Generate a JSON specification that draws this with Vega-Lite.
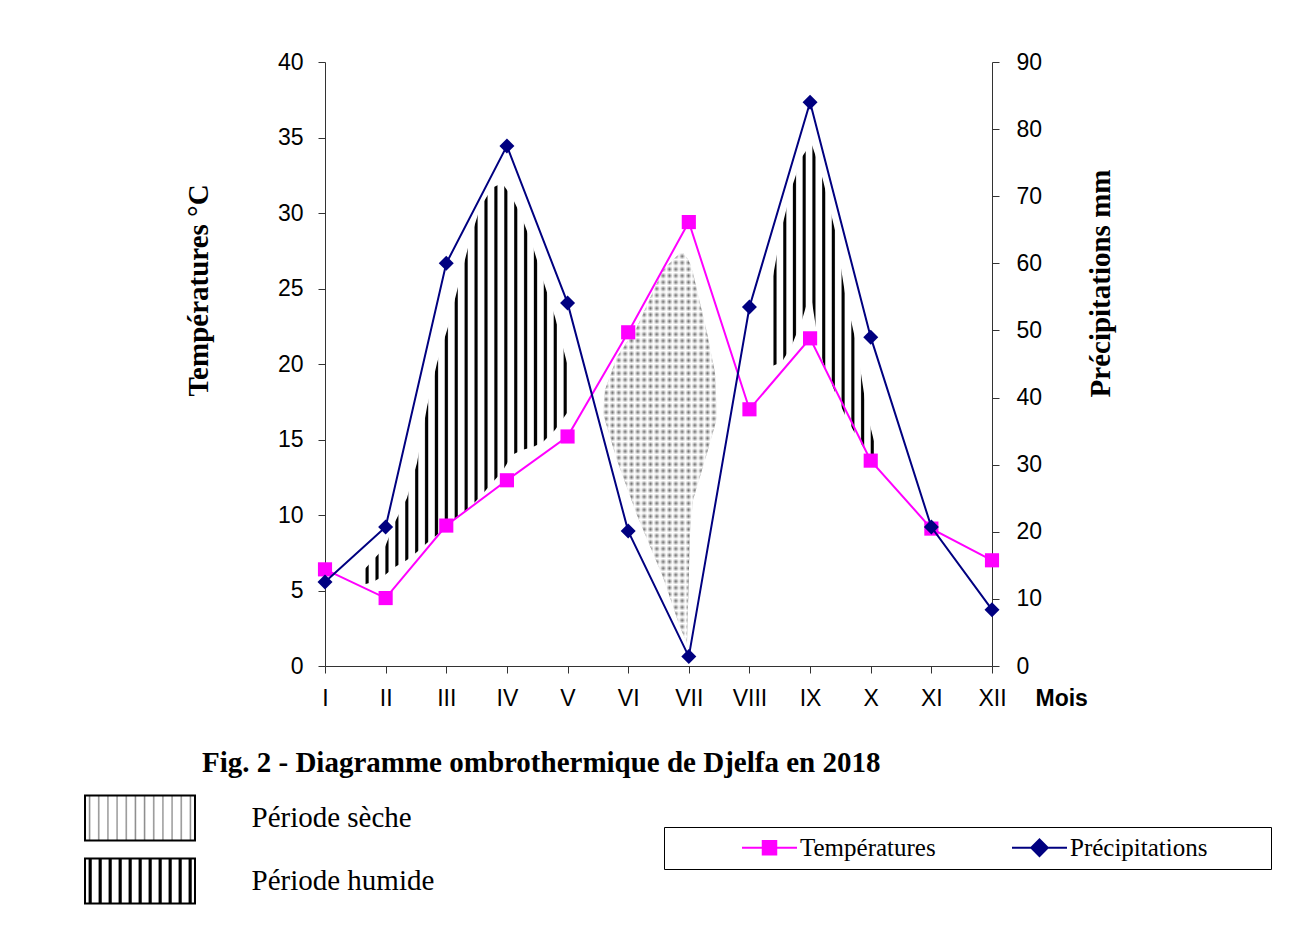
{
  "$schema": "https://vega.github.io/schema/vega-lite/v6.json",
  "width": 667,
  "height": 604,
  "autosize": {"type": "none"},
  "padding": {"left": 325, "top": 62, "right": 307, "bottom": 271},
  "background": "#ffffff",
  "config": {
    "view": {"stroke": null},
    "axis": {"grid": false, "domainColor": "#333333", "tickColor": "#333333", "labelColor": "#000000", "titleColor": "#000000", "domainWidth": 1, "tickWidth": 1}
  },
  "title": {
    "text": "Fig. 2 - Diagramme ombrothermique de Djelfa en 2018",
    "orient": "bottom", "anchor": "start", "frame": "group", "dx": -123, "offset": -159,
    "font": "Liberation Serif", "fontSize": 29, "fontWeight": "bold", "color": "#000000"
  },
  "datasets": {
    "climat": [
      {"mois": 1, "temperature": 6.4, "precipitation": 12.5},
      {"mois": 2, "temperature": 4.5, "precipitation": 20.7},
      {"mois": 3, "temperature": 9.3, "precipitation": 60.0},
      {"mois": 4, "temperature": 12.3, "precipitation": 77.5},
      {"mois": 5, "temperature": 15.2, "precipitation": 54.1},
      {"mois": 6, "temperature": 22.1, "precipitation": 20.1},
      {"mois": 7, "temperature": 29.4, "precipitation": 1.4},
      {"mois": 8, "temperature": 17.0, "precipitation": 53.5},
      {"mois": 9, "temperature": 21.7, "precipitation": 84.0},
      {"mois": 10, "temperature": 13.6, "precipitation": 49.0},
      {"mois": 11, "temperature": 9.1, "precipitation": 20.7},
      {"mois": 12, "temperature": 7.0, "precipitation": 8.4}
    ],
    "humide1": [
      {"mois": 1.610, "temperature": 6.23, "temperature_bas": 5.36},
      {"mois": 1.792, "temperature": 7.02, "temperature_bas": 5.56},
      {"mois": 1.989, "temperature": 7.88, "temperature_bas": 6.03},
      {"mois": 2.154, "temperature": 9.54, "temperature_bas": 6.56},
      {"mois": 2.352, "temperature": 11.13, "temperature_bas": 7.02},
      {"mois": 2.517, "temperature": 13.44, "temperature_bas": 7.55},
      {"mois": 2.682, "temperature": 17.15, "temperature_bas": 8.15},
      {"mois": 2.847, "temperature": 20.07, "temperature_bas": 8.68},
      {"mois": 3.028, "temperature": 22.45, "temperature_bas": 9.34},
      {"mois": 3.193, "temperature": 25.10, "temperature_bas": 9.87},
      {"mois": 3.391, "temperature": 28.21, "temperature_bas": 10.53},
      {"mois": 3.556, "temperature": 30.33, "temperature_bas": 11.19},
      {"mois": 3.754, "temperature": 31.66, "temperature_bas": 12.12},
      {"mois": 3.919, "temperature": 31.99, "temperature_bas": 12.85},
      {"mois": 4.084, "temperature": 31.06, "temperature_bas": 13.97},
      {"mois": 4.249, "temperature": 29.67, "temperature_bas": 14.30},
      {"mois": 4.430, "temperature": 27.75, "temperature_bas": 14.50},
      {"mois": 4.595, "temperature": 25.56, "temperature_bas": 14.83},
      {"mois": 4.793, "temperature": 23.11, "temperature_bas": 15.63},
      {"mois": 4.991, "temperature": 20.07, "temperature_bas": 16.75},
      {"mois": 5.040, "temperature": 17.62, "temperature_bas": 17.28}
    ],
    "humide2": [
      {"mois": 8.338, "temperature": 24.70, "temperature_bas": 19.80},
      {"mois": 8.536, "temperature": 29.07, "temperature_bas": 20.13},
      {"mois": 8.701, "temperature": 31.72, "temperature_bas": 21.26},
      {"mois": 8.866, "temperature": 33.71, "temperature_bas": 22.91},
      {"mois": 8.965, "temperature": 34.30, "temperature_bas": 24.24},
      {"mois": 9.031, "temperature": 34.50, "temperature_bas": 24.11},
      {"mois": 9.130, "temperature": 33.31, "temperature_bas": 21.59},
      {"mois": 9.212, "temperature": 32.19, "temperature_bas": 20.13},
      {"mois": 9.410, "temperature": 28.87, "temperature_bas": 18.15},
      {"mois": 9.575, "temperature": 24.70, "temperature_bas": 16.62},
      {"mois": 9.773, "temperature": 21.13, "temperature_bas": 15.17},
      {"mois": 9.938, "temperature": 16.75, "temperature_bas": 14.11},
      {"mois": 10.103, "temperature": 14.11, "temperature_bas": 13.64}
    ],
    "seche": [
      {"mois": 5.584, "temperature": 16.75, "temperature_bas": 16.75},
      {"mois": 5.617, "temperature": 18.28, "temperature_bas": 16.29},
      {"mois": 5.815, "temperature": 20.46, "temperature_bas": 13.64},
      {"mois": 6.145, "temperature": 22.45, "temperature_bas": 10.00},
      {"mois": 6.574, "temperature": 26.23, "temperature_bas": 5.89},
      {"mois": 6.854, "temperature": 27.35, "temperature_bas": 2.58},
      {"mois": 6.904, "temperature": 27.35, "temperature_bas": 2.12},
      {"mois": 6.970, "temperature": 27.02, "temperature_bas": 1.52},
      {"mois": 7.019, "temperature": 26.69, "temperature_bas": 8.81},
      {"mois": 7.069, "temperature": 26.03, "temperature_bas": 10.99},
      {"mois": 7.300, "temperature": 22.05, "temperature_bas": 14.11},
      {"mois": 7.432, "temperature": 19.40, "temperature_bas": 15.96},
      {"mois": 7.465, "temperature": 16.49, "temperature_bas": 16.49}
    ]
  },
  "encoding": {
    "x": {
      "field": "mois", "type": "quantitative",
      "scale": {"domain": [1, 12], "nice": false, "zero": false},
      "axis": {
        "values": [1, 2, 3, 4, 5, 6, 7, 8, 9, 10, 11, 12],
        "labelExpr": "['I','II','III','IV','V','VI','VII','VIII','IX','X','XI','XII'][datum.value - 1]",
        "labelFont": "Liberation Sans", "labelFontSize": 23, "labelPadding": 14, "labelFlush": false, "labelOverlap": false,
        "tickSize": 7,
        "title": "Mois", "titleFont": "Liberation Sans", "titleFontSize": 23, "titleFontWeight": "bold",
        "titleX": 710, "titleY": 39, "titleAlign": "left", "titleBaseline": "alphabetic"
      }
    }
  },
  "layer": [
    {
      "encoding": {
        "y": {
          "field": "temperature", "type": "quantitative",
          "scale": {"domain": [0, 40], "nice": false},
          "axis": {
            "values": [0, 5, 10, 15, 20, 25, 30, 35, 40],
            "labelFont": "Liberation Sans", "labelFontSize": 23, "labelPadding": 15, "tickSize": 7,
            "title": "Températures °C", "titleFont": "Liberation Serif", "titleFontSize": 29, "titleFontWeight": "bold",
            "titleAngle": -90, "titleX": -127, "titleY": 228, "titleAlign": "center", "titleBaseline": "middle"
          }
        }
      },
      "layer": [
        {
          "data": {"name": "humide1"},
          "mark": {"type": "area", "fill": {"gradient": "linear", "x1": 0, "y1": 0, "x2": 1, "y2": 0, "stops": [
            {"offset": 0, "color": "#fff"},
            {"offset": 0.0143, "color": "#fff"}, {"offset": 0.0200, "color": "#000"}, {"offset": 0.0295, "color": "#000"}, {"offset": 0.0352, "color": "#fff"},
            {"offset": 0.0619, "color": "#fff"}, {"offset": 0.0676, "color": "#000"}, {"offset": 0.0771, "color": "#000"}, {"offset": 0.0829, "color": "#fff"},
            {"offset": 0.1095, "color": "#fff"}, {"offset": 0.1152, "color": "#000"}, {"offset": 0.1248, "color": "#000"}, {"offset": 0.1305, "color": "#fff"},
            {"offset": 0.1571, "color": "#fff"}, {"offset": 0.1629, "color": "#000"}, {"offset": 0.1724, "color": "#000"}, {"offset": 0.1781, "color": "#fff"},
            {"offset": 0.2048, "color": "#fff"}, {"offset": 0.2105, "color": "#000"}, {"offset": 0.2200, "color": "#000"}, {"offset": 0.2257, "color": "#fff"},
            {"offset": 0.2524, "color": "#fff"}, {"offset": 0.2581, "color": "#000"}, {"offset": 0.2676, "color": "#000"}, {"offset": 0.2733, "color": "#fff"},
            {"offset": 0.3000, "color": "#fff"}, {"offset": 0.3057, "color": "#000"}, {"offset": 0.3152, "color": "#000"}, {"offset": 0.3210, "color": "#fff"},
            {"offset": 0.3476, "color": "#fff"}, {"offset": 0.3533, "color": "#000"}, {"offset": 0.3629, "color": "#000"}, {"offset": 0.3686, "color": "#fff"},
            {"offset": 0.3952, "color": "#fff"}, {"offset": 0.4010, "color": "#000"}, {"offset": 0.4105, "color": "#000"}, {"offset": 0.4162, "color": "#fff"},
            {"offset": 0.4429, "color": "#fff"}, {"offset": 0.4486, "color": "#000"}, {"offset": 0.4581, "color": "#000"}, {"offset": 0.4638, "color": "#fff"},
            {"offset": 0.4905, "color": "#fff"}, {"offset": 0.4962, "color": "#000"}, {"offset": 0.5057, "color": "#000"}, {"offset": 0.5114, "color": "#fff"},
            {"offset": 0.5381, "color": "#fff"}, {"offset": 0.5438, "color": "#000"}, {"offset": 0.5533, "color": "#000"}, {"offset": 0.5590, "color": "#fff"},
            {"offset": 0.5857, "color": "#fff"}, {"offset": 0.5914, "color": "#000"}, {"offset": 0.6010, "color": "#000"}, {"offset": 0.6067, "color": "#fff"},
            {"offset": 0.6333, "color": "#fff"}, {"offset": 0.6390, "color": "#000"}, {"offset": 0.6486, "color": "#000"}, {"offset": 0.6543, "color": "#fff"},
            {"offset": 0.6810, "color": "#fff"}, {"offset": 0.6867, "color": "#000"}, {"offset": 0.6962, "color": "#000"}, {"offset": 0.7019, "color": "#fff"},
            {"offset": 0.7286, "color": "#fff"}, {"offset": 0.7343, "color": "#000"}, {"offset": 0.7438, "color": "#000"}, {"offset": 0.7495, "color": "#fff"},
            {"offset": 0.7762, "color": "#fff"}, {"offset": 0.7819, "color": "#000"}, {"offset": 0.7914, "color": "#000"}, {"offset": 0.7971, "color": "#fff"},
            {"offset": 0.8238, "color": "#fff"}, {"offset": 0.8295, "color": "#000"}, {"offset": 0.8390, "color": "#000"}, {"offset": 0.8448, "color": "#fff"},
            {"offset": 0.8714, "color": "#fff"}, {"offset": 0.8771, "color": "#000"}, {"offset": 0.8867, "color": "#000"}, {"offset": 0.8924, "color": "#fff"},
            {"offset": 0.9190, "color": "#fff"}, {"offset": 0.9248, "color": "#000"}, {"offset": 0.9343, "color": "#000"}, {"offset": 0.9400, "color": "#fff"},
            {"offset": 0.9667, "color": "#fff"}, {"offset": 0.9724, "color": "#000"}, {"offset": 0.9819, "color": "#000"}, {"offset": 0.9876, "color": "#fff"},
            {"offset": 1, "color": "#fff"}
          ]}},
          "encoding": {
            "y2": {"field": "temperature_bas"}
          }
        },
        {
          "data": {"name": "humide2"},
          "mark": {"type": "area", "fill": {"gradient": "linear", "x1": 0, "y1": 0, "x2": 1, "y2": 0, "stops": [
            {"offset": 0, "color": "#fff"},
            {"offset": 0.0273, "color": "#fff"}, {"offset": 0.0382, "color": "#000"}, {"offset": 0.0564, "color": "#000"}, {"offset": 0.0673, "color": "#fff"},
            {"offset": 0.1182, "color": "#fff"}, {"offset": 0.1291, "color": "#000"}, {"offset": 0.1473, "color": "#000"}, {"offset": 0.1582, "color": "#fff"},
            {"offset": 0.2091, "color": "#fff"}, {"offset": 0.2200, "color": "#000"}, {"offset": 0.2382, "color": "#000"}, {"offset": 0.2491, "color": "#fff"},
            {"offset": 0.3000, "color": "#fff"}, {"offset": 0.3109, "color": "#000"}, {"offset": 0.3291, "color": "#000"}, {"offset": 0.3400, "color": "#fff"},
            {"offset": 0.3909, "color": "#fff"}, {"offset": 0.4018, "color": "#000"}, {"offset": 0.4200, "color": "#000"}, {"offset": 0.4309, "color": "#fff"},
            {"offset": 0.4818, "color": "#fff"}, {"offset": 0.4927, "color": "#000"}, {"offset": 0.5109, "color": "#000"}, {"offset": 0.5218, "color": "#fff"},
            {"offset": 0.5727, "color": "#fff"}, {"offset": 0.5836, "color": "#000"}, {"offset": 0.6018, "color": "#000"}, {"offset": 0.6127, "color": "#fff"},
            {"offset": 0.6636, "color": "#fff"}, {"offset": 0.6745, "color": "#000"}, {"offset": 0.6927, "color": "#000"}, {"offset": 0.7036, "color": "#fff"},
            {"offset": 0.7545, "color": "#fff"}, {"offset": 0.7655, "color": "#000"}, {"offset": 0.7836, "color": "#000"}, {"offset": 0.7945, "color": "#fff"},
            {"offset": 0.8455, "color": "#fff"}, {"offset": 0.8564, "color": "#000"}, {"offset": 0.8745, "color": "#000"}, {"offset": 0.8855, "color": "#fff"},
            {"offset": 0.9364, "color": "#fff"}, {"offset": 0.9473, "color": "#000"}, {"offset": 0.9655, "color": "#000"}, {"offset": 0.9764, "color": "#fff"},
            {"offset": 1, "color": "#fff"}
          ]}},
          "encoding": {
            "y2": {"field": "temperature_bas"}
          }
        },
        {
          "data": {"name": "seche"},
          "mark": {"type": "area", "fill": {"gradient": "linear", "x1": 0, "y1": 0, "x2": 1, "y2": 0, "stops": [
            {"offset": 0, "color": "#fff"}, {"offset": 0.0278, "color": "#6a6a6a"}, {"offset": 0.0556, "color": "#fff"}, {"offset": 0.0833, "color": "#6a6a6a"},
            {"offset": 0.1111, "color": "#fff"}, {"offset": 0.1389, "color": "#6a6a6a"}, {"offset": 0.1667, "color": "#fff"}, {"offset": 0.1944, "color": "#6a6a6a"},
            {"offset": 0.2222, "color": "#fff"}, {"offset": 0.25, "color": "#6a6a6a"}, {"offset": 0.2778, "color": "#fff"}, {"offset": 0.3056, "color": "#6a6a6a"},
            {"offset": 0.3333, "color": "#fff"}, {"offset": 0.3611, "color": "#6a6a6a"}, {"offset": 0.3889, "color": "#fff"}, {"offset": 0.4167, "color": "#6a6a6a"},
            {"offset": 0.4444, "color": "#fff"}, {"offset": 0.4722, "color": "#6a6a6a"}, {"offset": 0.5, "color": "#fff"}, {"offset": 0.5278, "color": "#6a6a6a"},
            {"offset": 0.5556, "color": "#fff"}, {"offset": 0.5833, "color": "#6a6a6a"}, {"offset": 0.6111, "color": "#fff"}, {"offset": 0.6389, "color": "#6a6a6a"},
            {"offset": 0.6667, "color": "#fff"}, {"offset": 0.6944, "color": "#6a6a6a"}, {"offset": 0.7222, "color": "#fff"}, {"offset": 0.75, "color": "#6a6a6a"},
            {"offset": 0.7778, "color": "#fff"}, {"offset": 0.8056, "color": "#6a6a6a"}, {"offset": 0.8333, "color": "#fff"}, {"offset": 0.8611, "color": "#6a6a6a"},
            {"offset": 0.8889, "color": "#fff"}, {"offset": 0.9167, "color": "#6a6a6a"}, {"offset": 0.9444, "color": "#fff"}, {"offset": 0.9722, "color": "#6a6a6a"},
            {"offset": 1, "color": "#fff"}
          ]}},
          "encoding": {
            "y2": {"field": "temperature_bas"}
          }
        },
        {
          "data": {"name": "seche"},
          "mark": {"type": "area", "fill": {"gradient": "linear", "x1": 0, "y1": 0, "x2": 0, "y2": 1, "stops": [
            {"offset": 0, "color": "#fff"}, {"offset": 0.0083, "color": "rgba(255,255,255,0)"}, {"offset": 0.0167, "color": "#fff"}, {"offset": 0.025, "color": "rgba(255,255,255,0)"},
            {"offset": 0.0333, "color": "#fff"}, {"offset": 0.0417, "color": "rgba(255,255,255,0)"}, {"offset": 0.05, "color": "#fff"}, {"offset": 0.0583, "color": "rgba(255,255,255,0)"},
            {"offset": 0.0667, "color": "#fff"}, {"offset": 0.075, "color": "rgba(255,255,255,0)"}, {"offset": 0.0833, "color": "#fff"}, {"offset": 0.0917, "color": "rgba(255,255,255,0)"},
            {"offset": 0.1, "color": "#fff"}, {"offset": 0.1083, "color": "rgba(255,255,255,0)"}, {"offset": 0.1167, "color": "#fff"}, {"offset": 0.125, "color": "rgba(255,255,255,0)"},
            {"offset": 0.1333, "color": "#fff"}, {"offset": 0.1417, "color": "rgba(255,255,255,0)"}, {"offset": 0.15, "color": "#fff"}, {"offset": 0.1583, "color": "rgba(255,255,255,0)"},
            {"offset": 0.1667, "color": "#fff"}, {"offset": 0.175, "color": "rgba(255,255,255,0)"}, {"offset": 0.1833, "color": "#fff"}, {"offset": 0.1917, "color": "rgba(255,255,255,0)"},
            {"offset": 0.2, "color": "#fff"}, {"offset": 0.2083, "color": "rgba(255,255,255,0)"}, {"offset": 0.2167, "color": "#fff"}, {"offset": 0.225, "color": "rgba(255,255,255,0)"},
            {"offset": 0.2333, "color": "#fff"}, {"offset": 0.2417, "color": "rgba(255,255,255,0)"}, {"offset": 0.25, "color": "#fff"}, {"offset": 0.2583, "color": "rgba(255,255,255,0)"},
            {"offset": 0.2667, "color": "#fff"}, {"offset": 0.275, "color": "rgba(255,255,255,0)"}, {"offset": 0.2833, "color": "#fff"}, {"offset": 0.2917, "color": "rgba(255,255,255,0)"},
            {"offset": 0.3, "color": "#fff"}, {"offset": 0.3083, "color": "rgba(255,255,255,0)"}, {"offset": 0.3167, "color": "#fff"}, {"offset": 0.325, "color": "rgba(255,255,255,0)"},
            {"offset": 0.3333, "color": "#fff"}, {"offset": 0.3417, "color": "rgba(255,255,255,0)"}, {"offset": 0.35, "color": "#fff"}, {"offset": 0.3583, "color": "rgba(255,255,255,0)"},
            {"offset": 0.3667, "color": "#fff"}, {"offset": 0.375, "color": "rgba(255,255,255,0)"}, {"offset": 0.3833, "color": "#fff"}, {"offset": 0.3917, "color": "rgba(255,255,255,0)"},
            {"offset": 0.4, "color": "#fff"}, {"offset": 0.4083, "color": "rgba(255,255,255,0)"}, {"offset": 0.4167, "color": "#fff"}, {"offset": 0.425, "color": "rgba(255,255,255,0)"},
            {"offset": 0.4333, "color": "#fff"}, {"offset": 0.4417, "color": "rgba(255,255,255,0)"}, {"offset": 0.45, "color": "#fff"}, {"offset": 0.4583, "color": "rgba(255,255,255,0)"},
            {"offset": 0.4667, "color": "#fff"}, {"offset": 0.475, "color": "rgba(255,255,255,0)"}, {"offset": 0.4833, "color": "#fff"}, {"offset": 0.4917, "color": "rgba(255,255,255,0)"},
            {"offset": 0.5, "color": "#fff"}, {"offset": 0.5083, "color": "rgba(255,255,255,0)"}, {"offset": 0.5167, "color": "#fff"}, {"offset": 0.525, "color": "rgba(255,255,255,0)"},
            {"offset": 0.5333, "color": "#fff"}, {"offset": 0.5417, "color": "rgba(255,255,255,0)"}, {"offset": 0.55, "color": "#fff"}, {"offset": 0.5583, "color": "rgba(255,255,255,0)"},
            {"offset": 0.5667, "color": "#fff"}, {"offset": 0.575, "color": "rgba(255,255,255,0)"}, {"offset": 0.5833, "color": "#fff"}, {"offset": 0.5917, "color": "rgba(255,255,255,0)"},
            {"offset": 0.6, "color": "#fff"}, {"offset": 0.6083, "color": "rgba(255,255,255,0)"}, {"offset": 0.6167, "color": "#fff"}, {"offset": 0.625, "color": "rgba(255,255,255,0)"},
            {"offset": 0.6333, "color": "#fff"}, {"offset": 0.6417, "color": "rgba(255,255,255,0)"}, {"offset": 0.65, "color": "#fff"}, {"offset": 0.6583, "color": "rgba(255,255,255,0)"},
            {"offset": 0.6667, "color": "#fff"}, {"offset": 0.675, "color": "rgba(255,255,255,0)"}, {"offset": 0.6833, "color": "#fff"}, {"offset": 0.6917, "color": "rgba(255,255,255,0)"},
            {"offset": 0.7, "color": "#fff"}, {"offset": 0.7083, "color": "rgba(255,255,255,0)"}, {"offset": 0.7167, "color": "#fff"}, {"offset": 0.725, "color": "rgba(255,255,255,0)"},
            {"offset": 0.7333, "color": "#fff"}, {"offset": 0.7417, "color": "rgba(255,255,255,0)"}, {"offset": 0.75, "color": "#fff"}, {"offset": 0.7583, "color": "rgba(255,255,255,0)"},
            {"offset": 0.7667, "color": "#fff"}, {"offset": 0.775, "color": "rgba(255,255,255,0)"}, {"offset": 0.7833, "color": "#fff"}, {"offset": 0.7917, "color": "rgba(255,255,255,0)"},
            {"offset": 0.8, "color": "#fff"}, {"offset": 0.8083, "color": "rgba(255,255,255,0)"}, {"offset": 0.8167, "color": "#fff"}, {"offset": 0.825, "color": "rgba(255,255,255,0)"},
            {"offset": 0.8333, "color": "#fff"}, {"offset": 0.8417, "color": "rgba(255,255,255,0)"}, {"offset": 0.85, "color": "#fff"}, {"offset": 0.8583, "color": "rgba(255,255,255,0)"},
            {"offset": 0.8667, "color": "#fff"}, {"offset": 0.875, "color": "rgba(255,255,255,0)"}, {"offset": 0.8833, "color": "#fff"}, {"offset": 0.8917, "color": "rgba(255,255,255,0)"},
            {"offset": 0.9, "color": "#fff"}, {"offset": 0.9083, "color": "rgba(255,255,255,0)"}, {"offset": 0.9167, "color": "#fff"}, {"offset": 0.925, "color": "rgba(255,255,255,0)"},
            {"offset": 0.9333, "color": "#fff"}, {"offset": 0.9417, "color": "rgba(255,255,255,0)"}, {"offset": 0.95, "color": "#fff"}, {"offset": 0.9583, "color": "rgba(255,255,255,0)"},
            {"offset": 0.9667, "color": "#fff"}, {"offset": 0.975, "color": "rgba(255,255,255,0)"}, {"offset": 0.9833, "color": "#fff"}, {"offset": 0.9917, "color": "rgba(255,255,255,0)"},
            {"offset": 1, "color": "#fff"}
          ]}},
          "encoding": {
            "y2": {"field": "temperature_bas"}
          }
        },
        {
          "data": {"name": "seche"},
          "mark": {"type": "area", "opacity": 0, "strokeWidth": 2, "fill": {"gradient": "linear", "x1": 0, "y1": 0, "x2": 1, "y2": 0, "stops": [
            {"offset": 0, "color": "#fff"},
            {"offset": 0.0292, "color": "#fff"}, {"offset": 0.0417, "color": "#888"}, {"offset": 0.0542, "color": "#fff"},
            {"offset": 0.1125, "color": "#fff"}, {"offset": 0.125, "color": "#888"}, {"offset": 0.1375, "color": "#fff"},
            {"offset": 0.1958, "color": "#fff"}, {"offset": 0.2083, "color": "#888"}, {"offset": 0.2208, "color": "#fff"},
            {"offset": 0.2792, "color": "#fff"}, {"offset": 0.2917, "color": "#888"}, {"offset": 0.3042, "color": "#fff"},
            {"offset": 0.3625, "color": "#fff"}, {"offset": 0.375, "color": "#888"}, {"offset": 0.3875, "color": "#fff"},
            {"offset": 0.4458, "color": "#fff"}, {"offset": 0.4583, "color": "#888"}, {"offset": 0.4708, "color": "#fff"},
            {"offset": 0.5292, "color": "#fff"}, {"offset": 0.5417, "color": "#888"}, {"offset": 0.5542, "color": "#fff"},
            {"offset": 0.6125, "color": "#fff"}, {"offset": 0.625, "color": "#888"}, {"offset": 0.6375, "color": "#fff"},
            {"offset": 0.6958, "color": "#fff"}, {"offset": 0.7083, "color": "#888"}, {"offset": 0.7208, "color": "#fff"},
            {"offset": 0.7792, "color": "#fff"}, {"offset": 0.7917, "color": "#888"}, {"offset": 0.8042, "color": "#fff"},
            {"offset": 0.8625, "color": "#fff"}, {"offset": 0.875, "color": "#888"}, {"offset": 0.8875, "color": "#fff"},
            {"offset": 0.9458, "color": "#fff"}, {"offset": 0.9583, "color": "#888"}, {"offset": 0.9708, "color": "#fff"},
            {"offset": 1, "color": "#fff"}
          ]}},
          "encoding": {
            "y2": {"field": "temperature_bas"},
            "stroke": {
              "datum": "Période sèche", "type": "nominal",
              "scale": {"domain": ["Période sèche"], "range": ["#000000"]},
              "legend": {
                "orient": "none", "legendX": -248.5, "legendY": 732.5, "direction": "vertical", "title": null,
                "padding": 0,
                "symbolType": "M-2.444,-1H2.444V1H-2.444Z", "symbolSize": 2025, "symbolOffset": 40, "labelOffset": 88,
                "labelFont": "Liberation Serif", "labelFontSize": 29, "labelColor": "#000000", "labelLimit": 400,
                "symbolStrokeWidth": 2, "symbolOpacity": 1
              }
            }
          }
        },
        {
          "data": {"name": "humide2"},
          "mark": {"type": "area", "opacity": 0, "strokeWidth": 2, "fill": {"gradient": "linear", "x1": 0, "y1": 0, "x2": 1, "y2": 0, "stops": [
            {"offset": 0, "color": "#fff"},
            {"offset": 0.0273, "color": "#fff"}, {"offset": 0.0382, "color": "#000"}, {"offset": 0.0564, "color": "#000"}, {"offset": 0.0673, "color": "#fff"},
            {"offset": 0.1182, "color": "#fff"}, {"offset": 0.1291, "color": "#000"}, {"offset": 0.1473, "color": "#000"}, {"offset": 0.1582, "color": "#fff"},
            {"offset": 0.2091, "color": "#fff"}, {"offset": 0.2200, "color": "#000"}, {"offset": 0.2382, "color": "#000"}, {"offset": 0.2491, "color": "#fff"},
            {"offset": 0.3000, "color": "#fff"}, {"offset": 0.3109, "color": "#000"}, {"offset": 0.3291, "color": "#000"}, {"offset": 0.3400, "color": "#fff"},
            {"offset": 0.3909, "color": "#fff"}, {"offset": 0.4018, "color": "#000"}, {"offset": 0.4200, "color": "#000"}, {"offset": 0.4309, "color": "#fff"},
            {"offset": 0.4818, "color": "#fff"}, {"offset": 0.4927, "color": "#000"}, {"offset": 0.5109, "color": "#000"}, {"offset": 0.5218, "color": "#fff"},
            {"offset": 0.5727, "color": "#fff"}, {"offset": 0.5836, "color": "#000"}, {"offset": 0.6018, "color": "#000"}, {"offset": 0.6127, "color": "#fff"},
            {"offset": 0.6636, "color": "#fff"}, {"offset": 0.6745, "color": "#000"}, {"offset": 0.6927, "color": "#000"}, {"offset": 0.7036, "color": "#fff"},
            {"offset": 0.7545, "color": "#fff"}, {"offset": 0.7655, "color": "#000"}, {"offset": 0.7836, "color": "#000"}, {"offset": 0.7945, "color": "#fff"},
            {"offset": 0.8455, "color": "#fff"}, {"offset": 0.8564, "color": "#000"}, {"offset": 0.8745, "color": "#000"}, {"offset": 0.8855, "color": "#fff"},
            {"offset": 0.9364, "color": "#fff"}, {"offset": 0.9473, "color": "#000"}, {"offset": 0.9655, "color": "#000"}, {"offset": 0.9764, "color": "#fff"},
            {"offset": 1, "color": "#fff"}
          ]}},
          "encoding": {
            "y2": {"field": "temperature_bas"},
            "stroke": {
              "datum": "Période humide", "type": "nominal",
              "scale": {"domain": ["Période humide"], "range": ["#000000"]},
              "legend": {
                "orient": "none", "legendX": -248.5, "legendY": 795.5, "direction": "vertical", "title": null,
                "padding": 0,
                "symbolType": "M-2.444,-1H2.444V1H-2.444Z", "symbolSize": 2025, "symbolOffset": 40, "labelOffset": 88,
                "labelFont": "Liberation Serif", "labelFontSize": 29, "labelColor": "#000000", "labelLimit": 400,
                "symbolStrokeWidth": 2, "symbolOpacity": 1
              }
            }
          }
        },
        {
          "data": {"name": "climat"},
          "mark": {"type": "line", "strokeWidth": 2},
          "encoding": {
            "color": {
              "datum": "Températures", "type": "nominal",
              "scale": {"domain": ["Températures", "Précipitations"], "range": ["#ff00ff", "#000080"]},
              "legend": {
                "orient": "none", "legendX": 339, "legendY": 765, "direction": "horizontal", "title": null,
                "padding": 8, "strokeColor": "#000000", "columnPadding": 6,
                "symbolSize": 225, "symbolOffset": 85, "labelOffset": 18,
                "labelFont": "Liberation Serif", "labelFontSize": 25, "labelColor": "#000000", "labelLimit": 400,
                "labelExpr": "datum.label === 'Précipitations' ? datum.label + '\u00a0\u00a0\u00a0\u00a0\u00a0\u00a0\u2800' : datum.label",
                "encode": {"symbols": {"update": {
                  "shape": [
                    {"test": "datum.value === 'Températures'", "value": "M-3.667,0H3.667M-0.9,-0.9H0.9V0.9H-0.9Z"},
                    {"value": "M-3.667,0H3.667M-1.1,0L0,-1.1L1.1,0L0,1.1Z"}
                  ],
                  "fill": [{"test": "datum.value === 'Températures'", "value": "#ff00ff"}, {"value": "#000080"}],
                  "stroke": [{"test": "datum.value === 'Températures'", "value": "#ff00ff"}, {"value": "#000080"}],
                  "strokeWidth": {"value": 2},
                  "opacity": {"value": 1}
                }}}
              }
            }
          }
        },
        {
          "data": {"name": "climat"},
          "mark": {"type": "point", "shape": "square", "filled": true, "size": 200, "opacity": 1},
          "encoding": {
            "color": {"datum": "Températures", "type": "nominal"}
          }
        }
      ],
      "resolve": {"scale": {"stroke": "independent"}, "legend": {"stroke": "independent"}}
    },
    {
      "data": {"name": "climat"},
      "encoding": {
        "y": {
          "field": "precipitation", "type": "quantitative",
          "scale": {"domain": [0, 90], "nice": false},
          "axis": {
            "orient": "right",
            "values": [0, 10, 20, 30, 40, 50, 60, 70, 80, 90],
            "labelFont": "Liberation Sans", "labelFontSize": 23, "labelPadding": 17, "tickSize": 7,
            "title": "Précipitations mm", "titleFont": "Liberation Serif", "titleFontSize": 29, "titleFontWeight": "bold",
            "titleAngle": -90, "titleX": 108, "titleY": 221, "titleAlign": "center", "titleBaseline": "middle"
          }
        }
      },
      "layer": [
        {
          "mark": {"type": "line", "strokeWidth": 2},
          "encoding": {"color": {"datum": "Précipitations", "type": "nominal"}}
        },
        {
          "mark": {"type": "point", "shape": "diamond", "filled": true, "size": 225, "opacity": 1},
          "encoding": {"color": {"datum": "Précipitations", "type": "nominal"}}
        }
      ]
    }
  ],
  "resolve": {"scale": {"y": "independent"}}
}
